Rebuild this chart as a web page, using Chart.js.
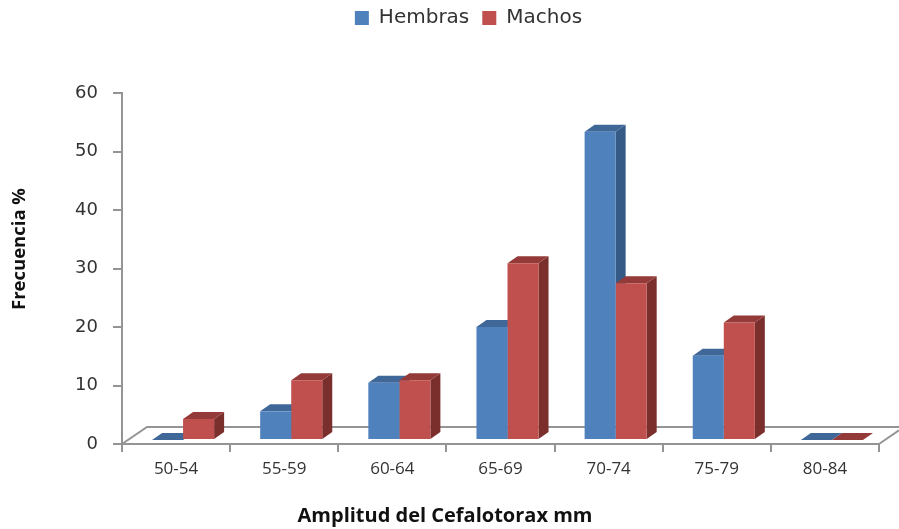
<!DOCTYPE html>
<html>
<head>
<meta charset="utf-8">
<style>
  html, body { margin: 0; padding: 0; background: #fff; }
  canvas { display: block; }
</style>
<script src="https://cdn.jsdelivr.net/npm/chart.js@4"></script>
</head>
<body>
<canvas id="myChart" width="899" height="529"></canvas>
<script>
let categories = ["50-54", "55-59", "60-64", "65-69", "70-74", "75-79", "80-84"];
let hembras = [0, 4.9, 9.8, 19.3, 52.7, 14.4, 0];
let machos = [3.6, 10.2, 10.2, 30.2, 26.8, 20.1, 0];
let xTitle = "Amplitud del Cefalotorax mm";
let yTitle = "Frecuencia %";

// fake 3D look of the original: depth of the bars and of the floor
const barDepth = { x: 10, y: -7 };
const barShift = { x: 7, y: -4 };
const floorDepth = { x: 25, y: -17 };
const axisGrey = "#949494";

function face(ctx, color, pts) {
    ctx.fillStyle = color;
    ctx.beginPath();
    ctx.moveTo(pts[0][0], pts[0][1]);
    for (let i = 1; i < pts.length; i++) ctx.lineTo(pts[i][0], pts[i][1]);
    ctx.closePath();
    ctx.fill();
}

const bars3d = {
    id: "bars3d",
    beforeDatasetsDraw(chart) {
        const ctx = chart.ctx;
        const area = chart.chartArea;

        // floor
        ctx.save();
        ctx.strokeStyle = axisGrey;
        ctx.lineWidth = 2;
        ctx.beginPath();
        ctx.moveTo(area.left, area.bottom);
        ctx.lineTo(area.left + floorDepth.x, area.bottom + floorDepth.y);
        ctx.lineTo(chart.width, area.bottom + floorDepth.y);
        ctx.moveTo(area.right, area.bottom);
        ctx.lineTo(chart.width, area.bottom + floorDepth.y * (chart.width - area.right) / floorDepth.x);
        ctx.stroke();
        ctx.restore();

        // the library's bars are the front faces, moved onto the floor
        ctx.save();
        ctx.translate(barShift.x, barShift.y);
        chart.data.datasets.forEach((ds, d) => {
            chart.getDatasetMeta(d).data.forEach((bar) => {
                const half = bar.width / 2;
                const l = bar.x - half, r = bar.x + half;
                const dx = barDepth.x, dy = barDepth.y;
                face(ctx, ds.sideColor, [[r, bar.y], [r + dx, bar.y + dy], [r + dx, bar.base + dy], [r, bar.base]]);
                face(ctx, ds.topColor, [[l, bar.y], [l + dx, bar.y + dy], [r + dx, bar.y + dy], [r, bar.y]]);
            });
        });
    },
    afterDatasetsDraw(chart) {
        chart.ctx.restore();
    }
};

// legend and axis titles are off-centre in the original, so they get placed by hand
const placement = {
    id: "placement",
    beforeLayout(chart) {
        const legend = chart.legend;
        if (!legend.patched) {
            const fit = legend.fit;
            legend.fit = function () {
                fit.call(this);
                this.height += 50;
            };
            legend.patched = true;
        }
    },
    afterLayout(chart) {
        chart.legend.left += 29;
        chart.legend.right += 29;
        chart.legend.top -= 5;
    },
    afterDraw(chart) {
        const ctx = chart.ctx;
        ctx.save();
        ctx.fillStyle = "#111111";
        ctx.textAlign = "center";
        ctx.textBaseline = "middle";
        ctx.font = "bold 20px 'Open Sans'";
        ctx.fillText(xTitle, 445, 516);
        ctx.translate(20, 249);
        ctx.rotate(-Math.PI / 2);
        ctx.font = "bold 18.5px 'Open Sans'";
        ctx.fillText(yTitle, 0, 0);
        ctx.restore();
    }
};

new Chart(document.getElementById("myChart"), {
    type: "bar",
    data: {
        labels: categories,
        datasets: [
            { label: "Hembras", data: hembras, backgroundColor: "#4f81bd", sideColor: "#355a86", topColor: "#3f6797" },
            { label: "Machos", data: machos, backgroundColor: "#c0504d", sideColor: "#7b2f2d", topColor: "#943a38" }
        ]
    },
    options: {
        responsive: false,
        animation: false,
        devicePixelRatio: 1,
        layout: { padding: { left: 0, right: 20, top: 0, bottom: 0 } },
        datasets: { bar: { categoryPercentage: 0.574, barPercentage: 1 } },
        plugins: {
            tooltip: { enabled: false },
            legend: {
                position: "top",
                labels: {
                    boxWidth: 14,
                    boxHeight: 14,
                    padding: 13,
                    color: "#333333",
                    font: { family: "'DejaVu Sans'", size: 20 }
                }
            }
        },
        scales: {
            x: {
                afterFit(scale) { scale.height = 85; },
                border: { color: axisGrey, width: 2 },
                grid: { drawOnChartArea: false, color: axisGrey, lineWidth: 2, tickLength: 8 },
                ticks: { color: "#333333", padding: 7, maxRotation: 0, font: { family: "'Open Sans'", size: 17 } }
            },
            y: {
                min: 0,
                max: 60,
                afterFit(scale) { scale.width = 122; },
                border: { color: axisGrey, width: 2 },
                grid: { drawOnChartArea: false, color: axisGrey, lineWidth: 2, tickLength: 9 },
                ticks: { stepSize: 10, color: "#333333", padding: 15, font: { family: "'DejaVu Sans'", size: 18 } }
            }
        }
    },
    plugins: [bars3d, placement]
});
</script>
</body>
</html>
